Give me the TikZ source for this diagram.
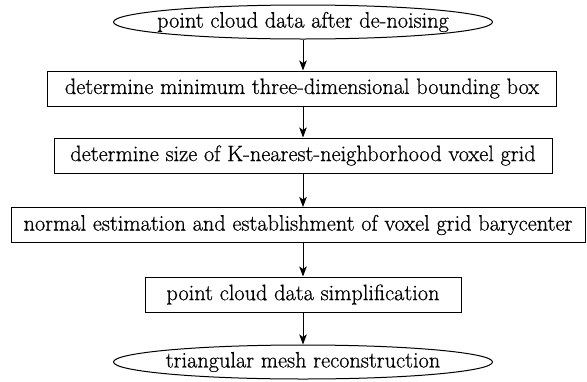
\documentclass[tikz,border=0pt]{standalone}
\usepackage{fontspec}
\setmainfont{Latin Modern Roman}[FakeBold=0.6]
\usetikzlibrary{shapes.geometric,arrows.meta}
\tikzset{
  label font/.style={font=\fontsize{22.3}{26}\selectfont},
  stepbox/.style={draw, line width=1pt, rectangle, inner sep=0pt,
    minimum height=35pt, label font},
  endcap/.style={draw, line width=1pt, ellipse, inner sep=0pt,
    minimum width=379pt, minimum height=34pt},
  captext/.style={inner sep=0pt, label font},
  flow/.style={line width=1pt, -{Stealth[length=10pt,width=7.5pt,inset=2.5pt]}}
}
\begin{document}
\begin{tikzpicture}[x=1pt,y=1pt]
  \useasboundingbox (0,0) rectangle (587,-381);
  % terminal ellipses: outline and label as separate nodes so the outline keeps its size
  \node[endcap]  (start) at (303,-22) {};
  \node[captext] (starttext) at (start.center) {point cloud data after de-noising};
  \node[stepbox, minimum width=509pt] (bbox)  at (302,-88.5) {determine minimum three-dimensional bounding box};
  \node[stepbox, minimum width=498pt] (grid)  at (303,-155.5) {determine size of K-nearest-neighborhood voxel grid};
  \node[stepbox, minimum width=574pt] (norm)  at (298,-225) {normal estimation and establishment of voxel grid barycenter};
  \node[stepbox, minimum width=316pt] (simp)  at (303,-294.5) {point cloud data simplification};
  \node[endcap]  (mesh)  at (303,-362) {};
  \node[captext] (meshtext) at (mesh.center) {triangular mesh reconstruction};
  \draw[flow] (start.south) -- (start.south |- bbox.north);
  \draw[flow] (start.south |- bbox.south) -- (start.south |- grid.north);
  \draw[flow] (start.south |- grid.south) -- (start.south |- norm.north);
  \draw[flow] (start.south |- norm.south) -- (start.south |- simp.north);
  \draw[flow] (start.south |- simp.south) -- (start.south |- mesh.north);
\end{tikzpicture}
\end{document}
